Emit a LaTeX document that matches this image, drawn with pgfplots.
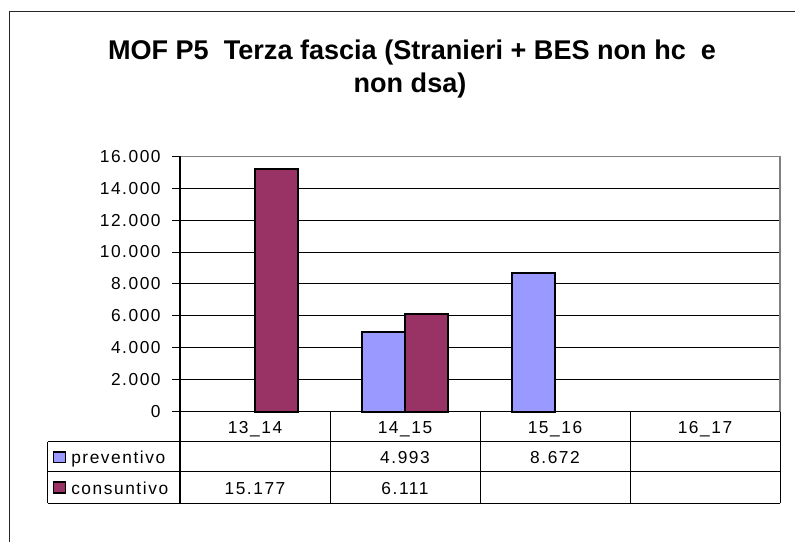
\documentclass[border=0pt]{standalone}
\usepackage{pgfplots}
\pgfplotsset{compat=1.18}
\usepackage{fontspec}
\setmainfont{Liberation Sans}
\newfontfamily\lsp[LetterSpace=9]{Liberation Sans}
\definecolor{prev}{HTML}{9999FF}
\definecolor{cons}{HTML}{993366}
\definecolor{bord}{HTML}{808080}
\begin{document}
\begin{tikzpicture}
\useasboundingbox (0,0) rectangle (596.25pt,-406.5pt);
\begin{axis}[
 at={(135pt,-308.775pt)}, anchor=south west,
 scale only axis, width=450pt, height=191.625pt,
 xmin=0.5, xmax=4.5, ymin=0, ymax=16000,
 xtick=\empty, ytick={0,2000,...,16000},
 ytick pos=left, tick align=outside, major tick length=6pt,
 tick style={black,line width=0.75pt},
 ymajorgrids, major grid style={black,line width=0.75pt},
 axis line style={draw=none},
 scaled y ticks=false,
 /pgf/number format/1000 sep={.},
 /pgf/number format/assume math mode=true,
 yticklabel style={font=\fontsize{13}{13}\lsp, xshift=-5pt},
 ybar, bar width=0.284,
 clip=false,
]
\addplot[fill=prev, draw=black, line width=1.5pt, bar shift=-0.142] coordinates {(2,4993) (3,8672)};
\addplot[fill=cons, draw=black, line width=1.5pt, bar shift=0.142] coordinates {(1,15177) (2,6111)};
\end{axis}
\begin{scope}[x=0.75pt, y=-0.75pt]
 % outer frame
 \draw[line width=0.9pt, black!85] (9.5,542) -- (9.5,11.7) -- (795,11.7);
 % title
 \node[font=\fontsize{20.3}{24}\selectfont\bfseries, anchor=base] at (412,60) {MOF P5\ \ Terza fascia (Stranieri + BES non hc\ \ e};
 \node[font=\fontsize{20.3}{24}\selectfont\bfseries, anchor=base] at (410,93) {non dsa)};
 % plot area border
 \draw[bord, line width=0.9pt] (180,156.2) -- (780,156.2) -- (780,411.7);
 \draw[black, line width=0.9pt] (180,156.2) -- (180,503.3);
 % table
 \draw[black, line width=0.9pt] (180,411.7) -- (780,411.7);
 \draw[black, line width=0.75pt] (47.7,441.7) -- (780,441.7);
 \draw[black, line width=0.75pt] (47.7,471.7) -- (780,471.7);
 \draw[black, line width=0.75pt] (47.7,503.3) -- (780,503.3);
 \draw[black, line width=0.75pt] (47.7,441.7) -- (47.7,503.3);
 \foreach \xx in {330,480,630,780} {\draw[black, line width=0.75pt] (\xx,411.7) -- (\xx,503.3);}
 % category labels
 \foreach \xx/\lab in {255/13\_14, 405/14\_15, 555/15\_16, 705/16\_17}
   {\node[font=\fontsize{13}{13}\lsp, anchor=base, inner sep=0pt] at (\xx,433) {\lab};}
 % legend keys
 \draw[fill=prev, draw=black, line width=1.2pt] (53.5,451.7) rectangle (65.5,462.3);
 \draw[fill=cons, draw=black, line width=1.2pt] (53.5,482.2) rectangle (65.5,492.8);
 \node[font=\fontsize{13}{13}\lsp, anchor=base west, inner sep=0pt] at (71,463) {preventivo};
 \node[font=\fontsize{13}{13}\lsp, anchor=base west, inner sep=0pt] at (71,494) {consuntivo};
 % values
 \node[font=\fontsize{13}{13}\lsp, anchor=base, inner sep=0pt] at (405,463) {4.993};
 \node[font=\fontsize{13}{13}\lsp, anchor=base, inner sep=0pt] at (555,463) {8.672};
 \node[font=\fontsize{13}{13}\lsp, anchor=base, inner sep=0pt] at (255,494) {15.177};
 \node[font=\fontsize{13}{13}\lsp, anchor=base, inner sep=0pt] at (405,494) {6.111};
\end{scope}
\end{tikzpicture}
\end{document}
